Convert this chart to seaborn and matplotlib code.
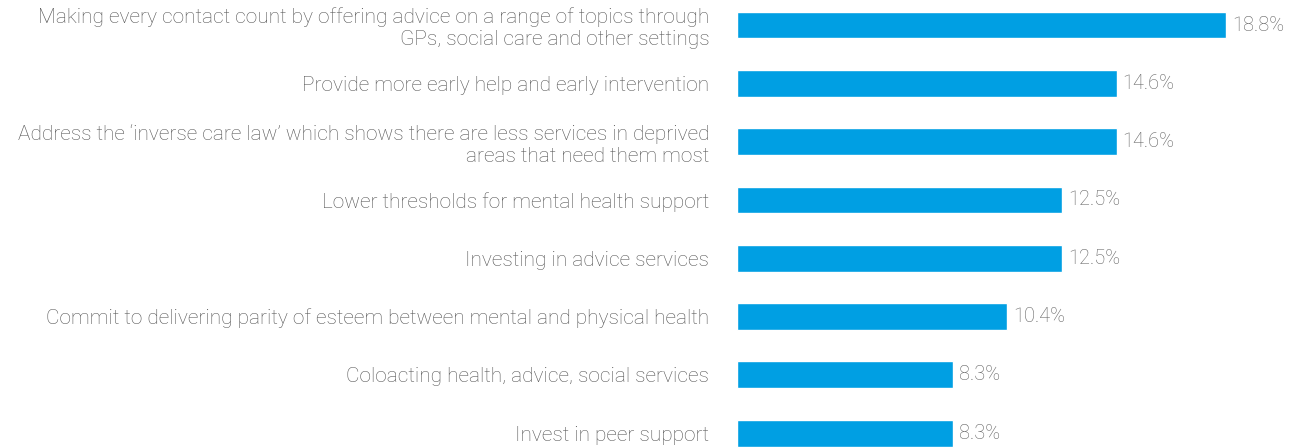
import matplotlib
matplotlib.use("Agg")
import matplotlib.pyplot as plt
import seaborn as sns
import pandas as pd

categories = [
    "Making every contact count by offering advice on a range of topics through\nGPs, social care and other settings",
    "Provide more early help and early intervention",
    "Address the \u2018inverse care law\u2019 which shows there are less services in deprived\nareas that need them most",
    "Lower thresholds for mental health support",
    "Investing in advice services",
    "Commit to delivering parity of esteem between mental and physical health",
    "Coloacting health, advice, social services",
    "Invest in peer support",
]
values = [18.8, 14.6, 14.6, 12.5, 12.5, 10.4, 8.3, 8.3]
value_labels = ["18.8%", "14.6%", "14.6%", "12.5%", "12.5%", "10.4%", "8.3%", "8.3%"]

df = pd.DataFrame({"category": categories, "value": values})

sns.set_theme(style="white")
plt.rcParams["font.family"] = ["Roboto", "DejaVu Sans"]

W, H = 1301, 448
fig = plt.figure(figsize=(W / 100, H / 100), dpi=100)
left_px, right_px = 737, 1296
ax = fig.add_axes([left_px / W, 0, (right_px - left_px) / W, 1])

sns.barplot(data=df, x="value", y="category", orient="h", color="#009FE3",
            saturation=1, width=0.458, ax=ax)

px_per_unit = 26.0
ax.set_xlim(0, (right_px - left_px) / px_per_unit)
row, first = 58.3, 25.05
ax.set_ylim((H - first) / row, -first / row)

for i, (v, lab) in enumerate(zip(values, value_labels)):
    ax.text(v + 6 / px_per_unit, i, lab, va="center", ha="left", fontsize=14.4,
            color="#626262", fontweight="light")

ax.set_xlabel("")
ax.set_ylabel("")
ax.set_xticks([])
ax.tick_params(axis="y", length=0, pad=20)
for t in ax.get_yticklabels():
    t.set_fontsize(15)
    t.set_color("#555555")
    t.set_fontweight("light")
    t.set_ha("right")
    t.set_linespacing(1.2)
for s in ax.spines.values():
    s.set_visible(False)

fig.savefig("out.png", dpi=100, facecolor="white")
